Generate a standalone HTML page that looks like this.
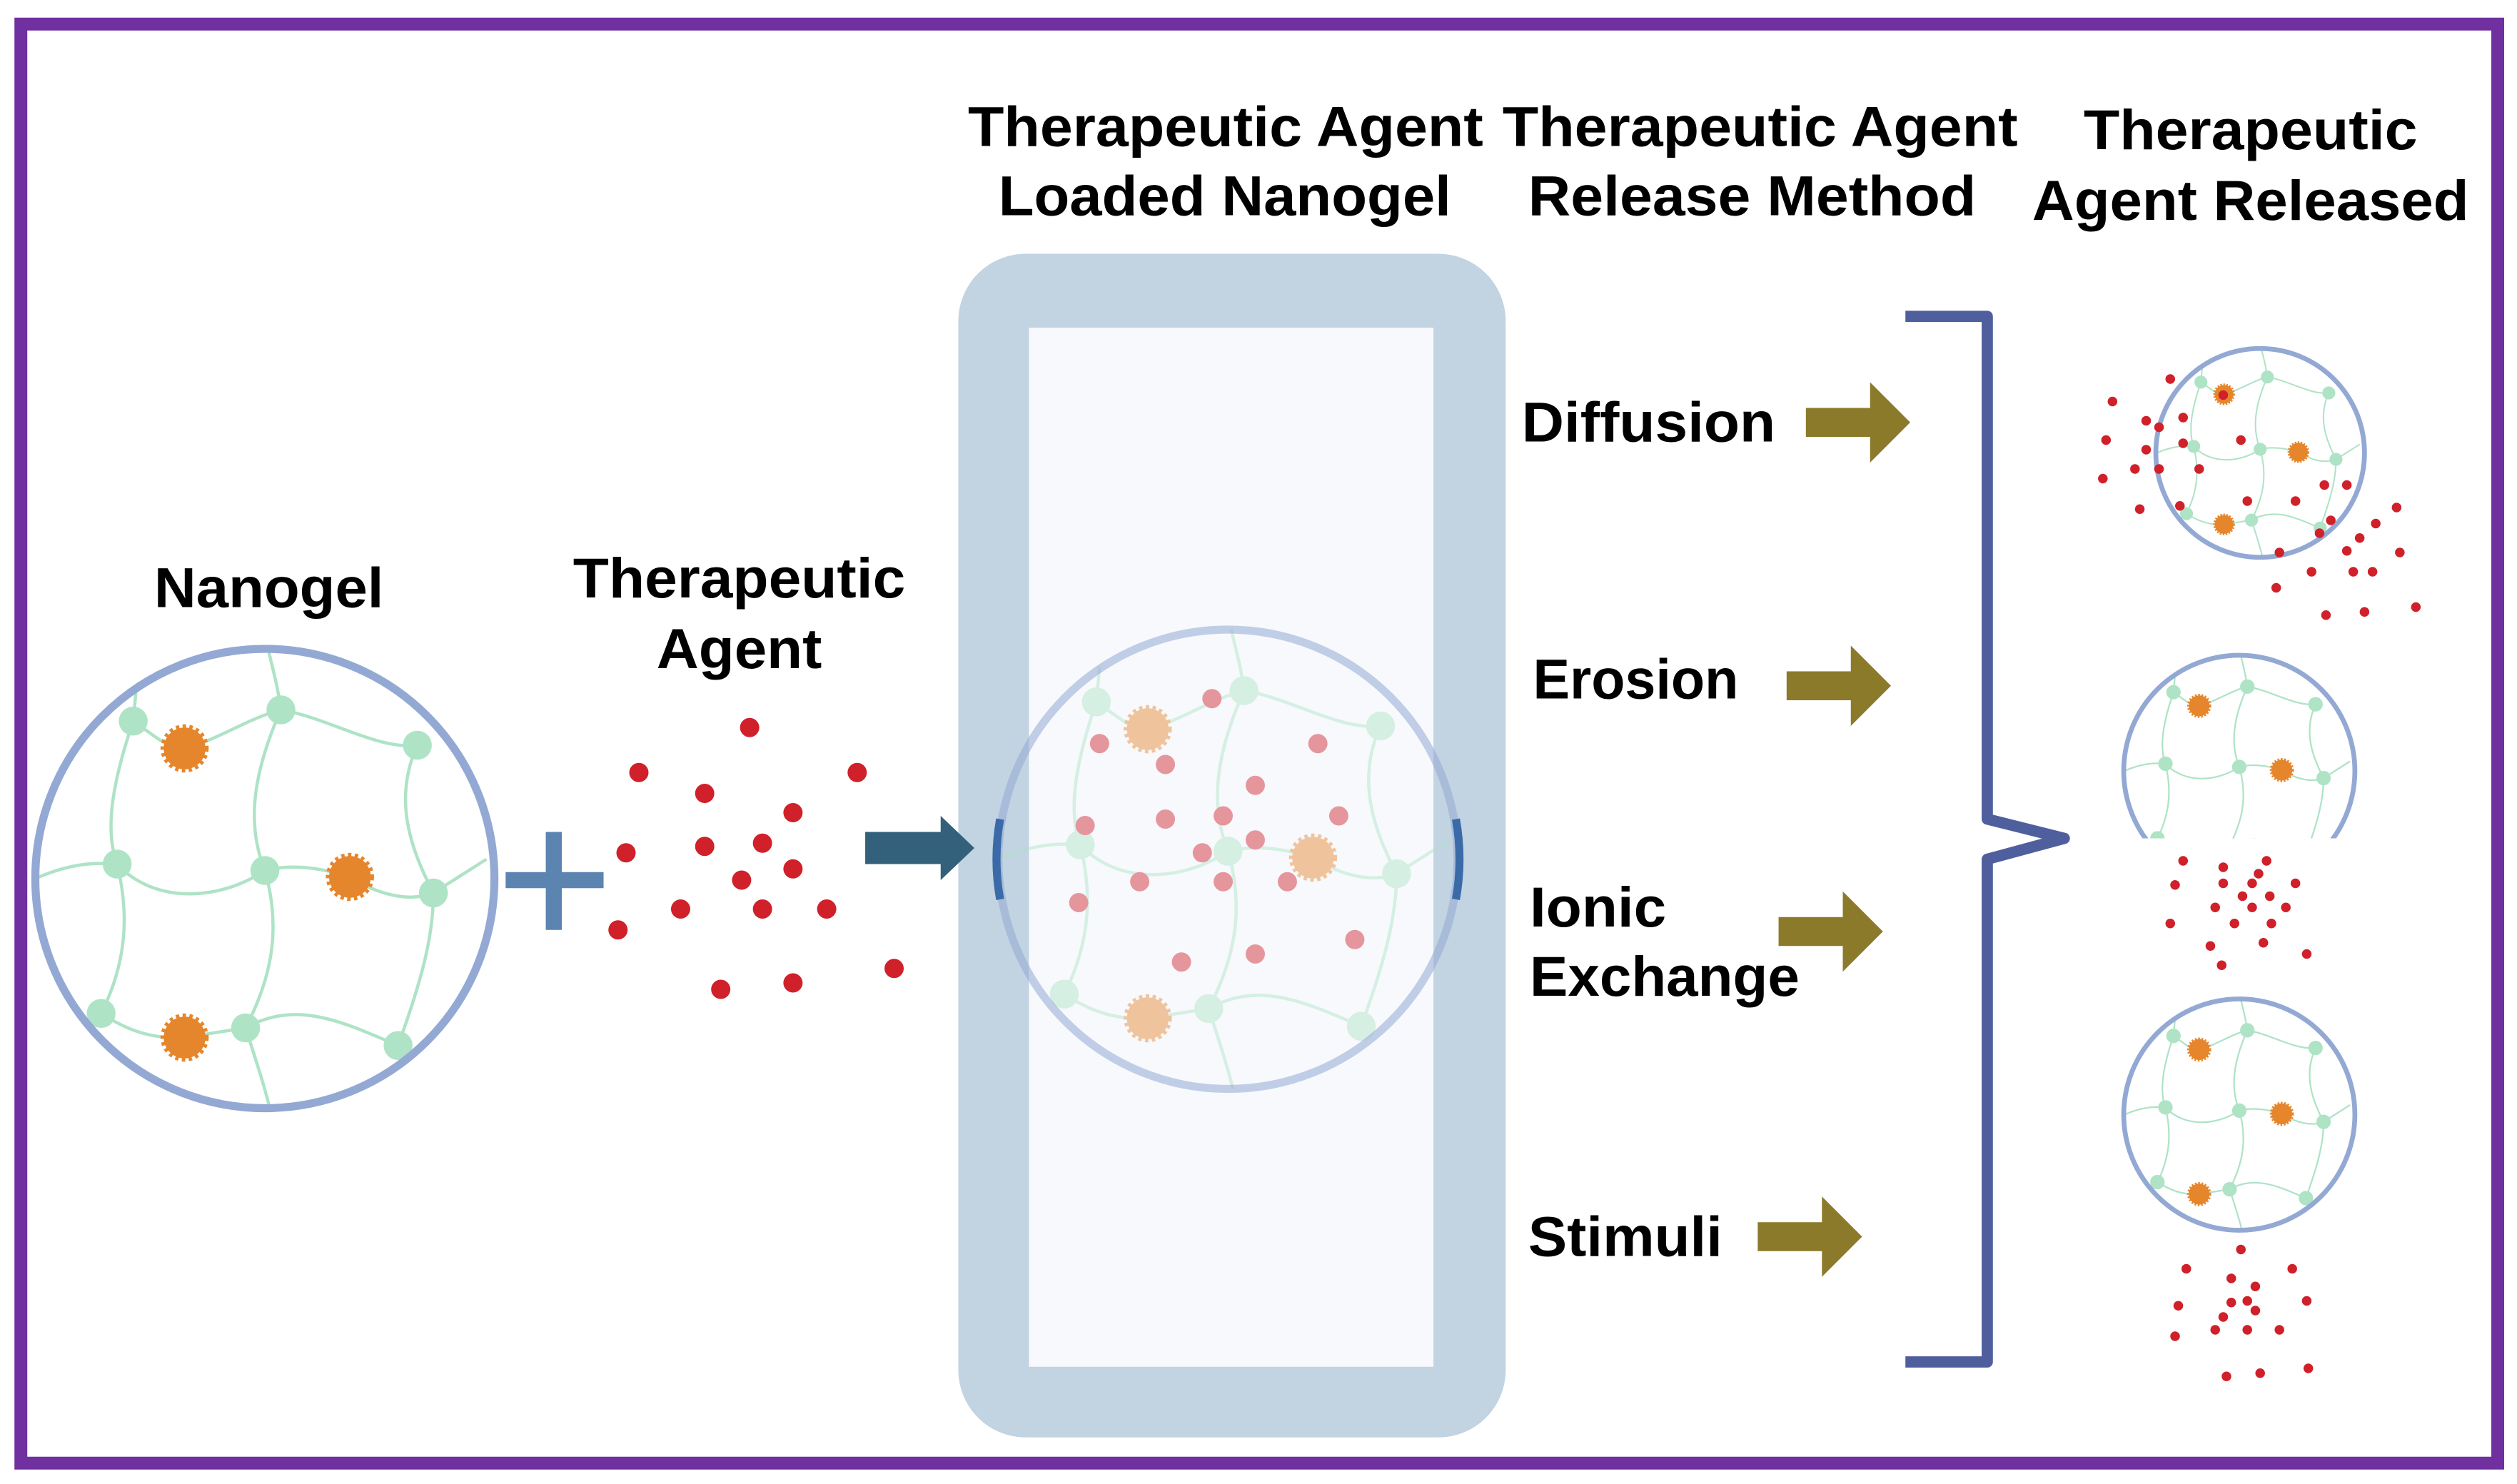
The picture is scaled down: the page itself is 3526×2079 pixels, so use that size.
<!DOCTYPE html>
<html><head><meta charset="utf-8"><style>html,body{margin:0;padding:0;background:#fff}svg{display:block}</style></head>
<body>
<svg width="3526" height="2079" viewBox="0 0 1568 924" preserveAspectRatio="none" xmlns="http://www.w3.org/2000/svg">
<defs>
<g id="net">
 <g fill="none" stroke="#aee3c6" stroke-width="2">
  <path d="M-82,-98 C-70,-90 -60,-80 -50,-81 C-30,-86 -10,-100 10,-105"/>
  <path d="M10,-105 C40,-100 70,-80 95,-83"/>
  <path d="M-82,-98 C-95,-60 -100,-30 -92,-9"/>
  <path d="M10,-105 C-10,-60 -10,-30 0,-5"/>
  <path d="M95,-83 C80,-50 90,-20 105,9"/>
  <path d="M-143,0 C-120,-10 -105,-10 -92,-9 C-70,15 -30,15 0,-5 C20,-10 40,-5 53,-1 C70,10 90,15 105,9 L138,-12"/>
  <path d="M-92,-9 C-85,20 -85,50 -102,84"/>
  <path d="M0,-5 C10,30 5,60 -12,93"/>
  <path d="M105,9 C105,40 95,70 83,104"/>
  <path d="M-102,84 C-85,95 -70,100 -50,99 L-12,93 C20,75 50,90 83,104"/>
  <path d="M-12,93 C-5,115 0,130 3,143"/>
  <path d="M10,-105 C8,-120 5,-130 2,-143"/>
  <path d="M-82,-98 L-80,-120"/>
 </g>
 <g fill="#aee3c6">
  <circle cx="-82" cy="-98" r="9"/><circle cx="10" cy="-105" r="9"/><circle cx="95" cy="-83" r="9"/>
  <circle cx="-92" cy="-9" r="9"/><circle cx="0" cy="-5" r="9"/><circle cx="105" cy="9" r="9"/>
  <circle cx="-102" cy="84" r="9"/><circle cx="-12" cy="93" r="9"/><circle cx="83" cy="104" r="9"/>
 </g>
 <g fill="#e6862c" stroke="#e6862c" stroke-width="4" stroke-dasharray="2 2">
  <circle cx="-50" cy="-81" r="13"/><circle cx="53" cy="-1" r="13"/><circle cx="-50" cy="99" r="13"/>
 </g>
</g>
</defs>
<rect x="0" y="0" width="1568" height="924" fill="#fff"/>
<rect x="13" y="15" width="1543" height="896" fill="none" stroke="#7030a0" stroke-width="8"/>

<g font-family="'Liberation Sans', sans-serif" font-weight="bold" font-size="35" fill="#000">
 <text x="96" y="378" textLength="143" lengthAdjust="spacingAndGlyphs">Nanogel</text>
 <text x="357" y="372" textLength="207" lengthAdjust="spacingAndGlyphs">Therapeutic</text>
 <text x="409" y="416" textLength="103" lengthAdjust="spacingAndGlyphs">Agent</text>
 <text x="603" y="91" textLength="321" lengthAdjust="spacingAndGlyphs">Therapeutic Agent</text>
 <text x="622" y="134" textLength="282" lengthAdjust="spacingAndGlyphs">Loaded Nanogel</text>
 <text x="936" y="91" textLength="321" lengthAdjust="spacingAndGlyphs">Therapeutic Agent</text>
 <text x="952" y="134" textLength="279" lengthAdjust="spacingAndGlyphs">Release Method</text>
 <text x="1298" y="93" textLength="208" lengthAdjust="spacingAndGlyphs">Therapeutic</text>
 <text x="1266" y="137" textLength="272" lengthAdjust="spacingAndGlyphs">Agent Released</text>
 <text x="948" y="275" textLength="158" lengthAdjust="spacingAndGlyphs">Diffusion</text>
 <text x="955" y="435" textLength="128" lengthAdjust="spacingAndGlyphs">Erosion</text>
 <text x="953" y="577" textLength="85" lengthAdjust="spacingAndGlyphs">Ionic</text>
 <text x="953" y="620" textLength="168" lengthAdjust="spacingAndGlyphs">Exchange</text>
 <text x="952" y="782" textLength="121" lengthAdjust="spacingAndGlyphs">Stimuli</text>
</g>

<use href="#net" transform="translate(165,547)"/>
<circle cx="165" cy="547" r="143" fill="none" stroke="#93a9d4" stroke-width="5"/>
<rect x="315" y="543" width="61" height="10" fill="#5b84b1"/>
<rect x="340" y="518" width="10" height="61" fill="#5b84b1"/>
<g fill="#d0202a">
 <circle cx="467" cy="453" r="6"/><circle cx="398" cy="481" r="6"/><circle cx="534" cy="481" r="6"/>
 <circle cx="439" cy="494" r="6"/><circle cx="494" cy="506" r="6"/><circle cx="390" cy="531" r="6"/>
 <circle cx="439" cy="527" r="6"/><circle cx="475" cy="525" r="6"/><circle cx="494" cy="541" r="6"/>
 <circle cx="462" cy="548" r="6"/><circle cx="424" cy="566" r="6"/><circle cx="475" cy="566" r="6"/>
 <circle cx="515" cy="566" r="6"/><circle cx="385" cy="579" r="6"/><circle cx="557" cy="603" r="6"/>
 <circle cx="449" cy="616" r="6"/><circle cx="494" cy="612" r="6"/>
</g>

<rect x="597" y="158" width="341" height="737" rx="42" fill="#c2d3e2"/>
<rect x="641" y="204" width="252" height="647" fill="#f7f9fc"/>
<path d="M539,518 H586 V508 L607,528 L586,548 V538 H539 Z" fill="#33607a"/>
<g opacity="0.45">
 <use href="#net" transform="translate(765,535) scale(1.0)"/>
 <g fill="#d0202a">
  <circle cx="755" cy="435" r="6"/><circle cx="685" cy="463" r="6"/><circle cx="821" cy="463" r="6"/>
  <circle cx="726" cy="476" r="6"/><circle cx="782" cy="489" r="6"/><circle cx="676" cy="514" r="6"/>
  <circle cx="726" cy="510" r="6"/><circle cx="762" cy="508" r="6"/><circle cx="834" cy="508" r="6"/>
  <circle cx="749" cy="531" r="6"/><circle cx="710" cy="549" r="6"/><circle cx="762" cy="549" r="6"/>
  <circle cx="802" cy="549" r="6"/><circle cx="672" cy="562" r="6"/><circle cx="844" cy="585" r="6"/>
  <circle cx="736" cy="599" r="6"/><circle cx="782" cy="594" r="6"/><circle cx="782" cy="523" r="6"/>
 </g>
</g>
<circle cx="765" cy="535" r="143" fill="none" stroke="#93a9d4" stroke-opacity="0.55" stroke-width="5"/>
<path d="M623,510 A143,143 0 0 0 623,560" fill="none" stroke="#3b6aa8" stroke-width="5"/>
<path d="M907,510 A143,143 0 0 1 907,560" fill="none" stroke="#3b6aa8" stroke-width="5"/>

<g fill="#8b7a2a">
 <path d="M1125,254 H1165 V238 L1190,263 L1165,288 V272 H1125 Z"/>
 <path d="M1113,418 H1153 V402 L1178,427 L1153,452 V436 H1113 Z"/>
 <path d="M1108,571 H1148 V555 L1173,580 L1148,605 V589 H1108 Z"/>
 <path d="M1095,761 H1135 V745 L1160,770 L1135,795 V779 H1095 Z"/>
</g>
<path d="M1187,197 H1238 V510 L1286,522 L1238,535 V848 H1187" fill="none" stroke="#4f5f9e" stroke-width="7" stroke-linejoin="round"/>

<use href="#net" transform="translate(1408,282) scale(0.45)"/>
<circle cx="1408" cy="282" r="65" fill="none" stroke="#93a9d4" stroke-width="3"/>
<g fill="#d0202a">
 <circle cx="1352" cy="236" r="3"/><circle cx="1316" cy="250" r="3"/><circle cx="1337" cy="262" r="3"/><circle cx="1360" cy="260" r="3"/>
 <circle cx="1312" cy="274" r="3"/><circle cx="1337" cy="280" r="3"/><circle cx="1345" cy="266" r="3"/><circle cx="1360" cy="276" r="3"/>
 <circle cx="1310" cy="298" r="3"/><circle cx="1330" cy="292" r="3"/><circle cx="1345" cy="292" r="3"/><circle cx="1370" cy="292" r="3"/>
 <circle cx="1333" cy="317" r="3"/><circle cx="1358" cy="315" r="3"/><circle cx="1385" cy="246" r="3"/><circle cx="1396" cy="274" r="3"/>
 <circle cx="1400" cy="312" r="3"/><circle cx="1430" cy="312" r="3"/><circle cx="1448" cy="302" r="3"/><circle cx="1480" cy="326" r="3"/>
 <circle cx="1493" cy="316" r="3"/><circle cx="1452" cy="324" r="3"/><circle cx="1470" cy="335" r="3"/><circle cx="1495" cy="344" r="3"/>
 <circle cx="1420" cy="344" r="3"/><circle cx="1445" cy="332" r="3"/><circle cx="1462" cy="343" r="3"/><circle cx="1466" cy="356" r="3"/>
 <circle cx="1440" cy="356" r="3"/><circle cx="1478" cy="356" r="3"/><circle cx="1418" cy="366" r="3"/><circle cx="1449" cy="383" r="3"/>
 <circle cx="1473" cy="381" r="3"/><circle cx="1505" cy="378" r="3"/><circle cx="1462" cy="302" r="3"/>
</g>
<clipPath id="c2"><rect x="1300" y="390" width="200" height="132"/></clipPath>
<g clip-path="url(#c2)">
 <use href="#net" transform="translate(1395,480) scale(0.5)"/>
 <circle cx="1395" cy="480" r="72" fill="none" stroke="#93a9d4" stroke-width="3"/>
</g>
<g fill="#d0202a">
 <circle cx="1360" cy="536" r="3"/><circle cx="1385" cy="540" r="3"/><circle cx="1412" cy="536" r="3"/><circle cx="1407" cy="544" r="3"/>
 <circle cx="1355" cy="551" r="3"/><circle cx="1385" cy="550" r="3"/><circle cx="1403" cy="550" r="3"/><circle cx="1430" cy="550" r="3"/>
 <circle cx="1397" cy="558" r="3"/><circle cx="1414" cy="558" r="3"/><circle cx="1380" cy="565" r="3"/><circle cx="1403" cy="565" r="3"/>
 <circle cx="1424" cy="565" r="3"/><circle cx="1352" cy="575" r="3"/><circle cx="1392" cy="575" r="3"/><circle cx="1415" cy="575" r="3"/>
 <circle cx="1377" cy="589" r="3"/><circle cx="1410" cy="587" r="3"/><circle cx="1437" cy="594" r="3"/><circle cx="1384" cy="601" r="3"/>
</g>
<use href="#net" transform="translate(1395,694) scale(0.5)"/>
<circle cx="1395" cy="694" r="72" fill="none" stroke="#93a9d4" stroke-width="3"/>
<g fill="#d0202a">
 <circle cx="1396" cy="778" r="3"/><circle cx="1362" cy="790" r="3"/><circle cx="1390" cy="796" r="3"/><circle cx="1428" cy="790" r="3"/>
 <circle cx="1405" cy="801" r="3"/><circle cx="1357" cy="813" r="3"/><circle cx="1390" cy="811" r="3"/><circle cx="1400" cy="810" r="3"/>
 <circle cx="1437" cy="810" r="3"/><circle cx="1405" cy="816" r="3"/><circle cx="1385" cy="820" r="3"/><circle cx="1355" cy="832" r="3"/>
 <circle cx="1380" cy="828" r="3"/><circle cx="1400" cy="828" r="3"/><circle cx="1420" cy="828" r="3"/><circle cx="1387" cy="857" r="3"/>
 <circle cx="1408" cy="855" r="3"/><circle cx="1438" cy="852" r="3"/>
</g>
</svg>
</body></html>
